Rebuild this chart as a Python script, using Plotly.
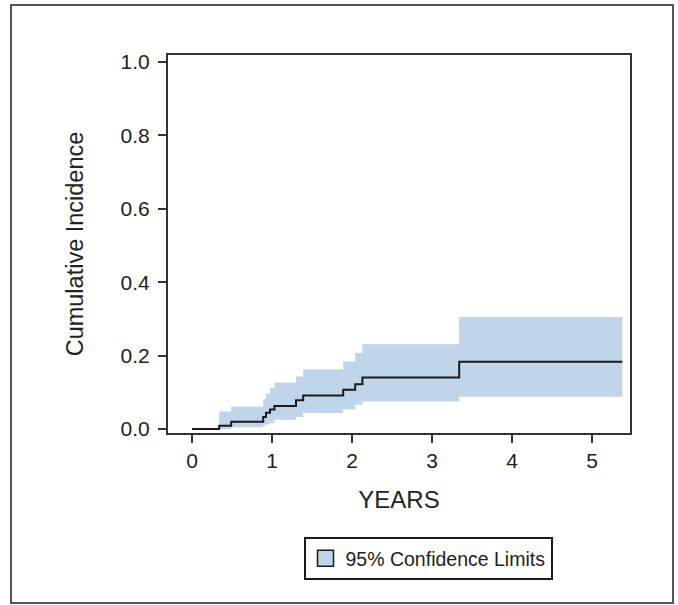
import plotly.graph_objects as go

# Step-function data (years, cumulative incidence)
years = [0, 0.34, 0.49, 0.89, 0.925, 0.975, 1.03, 1.30, 1.39, 1.89, 2.04, 2.13, 3.34, 5.38]
cif = [0, 0.009, 0.02, 0.033, 0.044, 0.053, 0.063, 0.078, 0.091, 0.107, 0.122, 0.14, 0.183, 0.183]

# Confidence band (starts at first event)
band_years = [0.34, 0.49, 0.89, 0.925, 0.975, 1.03, 1.30, 1.39, 1.89, 2.04, 2.13, 3.34, 5.38]
upper = [0.048, 0.0615, 0.082, 0.096, 0.1115, 0.127, 0.143, 0.163, 0.184, 0.207, 0.231, 0.305, 0.305]
lower = [0.0, 0.005, 0.01, 0.013, 0.016, 0.025, 0.033, 0.0435, 0.054, 0.066, 0.075, 0.088, 0.088]

x_ticks = [0, 1, 2, 3, 4, 5]
y_ticks = [0.0, 0.2, 0.4, 0.6, 0.8, 1.0]
y_tick_labels = ["0.0", "0.2", "0.4", "0.6", "0.8", "1.0"]

band_color = "rgb(192,212,234)"
font_family = "Arial, Liberation Sans, sans-serif"

fig = go.Figure()
fig.add_trace(go.Scatter(x=band_years, y=lower, mode="lines", line=dict(width=0, shape="hv"),
                         showlegend=False, hoverinfo="skip"))
fig.add_trace(go.Scatter(x=band_years, y=upper, mode="lines", line=dict(width=0, shape="hv"),
                         fill="tonexty", fillcolor=band_color, showlegend=False, hoverinfo="skip"))
fig.add_trace(go.Scatter(x=years, y=cif, mode="lines", line=dict(color="#1a1a1a", width=2, shape="hv"),
                         showlegend=False))
# Legend entry
fig.add_trace(go.Scatter(x=[None], y=[None], mode="markers", name="95% Confidence Limits",
                         marker=dict(symbol="square", size=17, color=band_color,
                                     line=dict(color="#1a1a1a", width=1.5))))

L, R, T, B = 168, 48, 55, 172
W, H = 678, 605
pw, ph = W - L - R, H - T - B

def px(xp):
    return (xp - L) / pw

def py(yp):
    return (H - B - yp) / ph

fig.add_shape(type="rect", xref="paper", yref="paper",
              x0=px(11), x1=px(673), y0=py(603), y1=py(5),
              line=dict(color="#555555", width=2), layer="below")

fig.update_layout(
    width=W, height=H,
    margin=dict(l=L, r=R, t=T, b=B),
    paper_bgcolor="white", plot_bgcolor="white",
    font=dict(family=font_family, size=21, color="#222222"),
    showlegend=True,
    legend=dict(x=px(428), y=py(537), xanchor="center", yanchor="top",
                bordercolor="#1a1a1a", borderwidth=2, bgcolor="white",
                font=dict(size=19.5), itemsizing="trace", itemwidth=30),
    xaxis=dict(range=[-0.3, 5.475], tickvals=x_ticks, ticks="outside", ticklen=8,
               tickwidth=1.5, tickcolor="#333", showgrid=False, zeroline=False,
               showline=True, linecolor="#333", linewidth=2, mirror=True,
               title=dict(text="YEARS", font=dict(size=24), standoff=20),
               tickfont=dict(size=21)),
    yaxis=dict(range=[-0.0109, 1.019], tickvals=y_ticks, ticktext=y_tick_labels,
               ticks="outside", ticklen=8, tickwidth=1.5, tickcolor="#333",
               showgrid=False, zeroline=False, ticklabelstandoff=4,
               showline=True, linecolor="#333", linewidth=2, mirror=True,
               title=dict(text="Cumulative Incidence", font=dict(size=23.5), standoff=30),
               tickfont=dict(size=21)),
)

fig.write_html("out.html", config={"displayModeBar": False},
               post_script="document.body.style.margin='0';")
